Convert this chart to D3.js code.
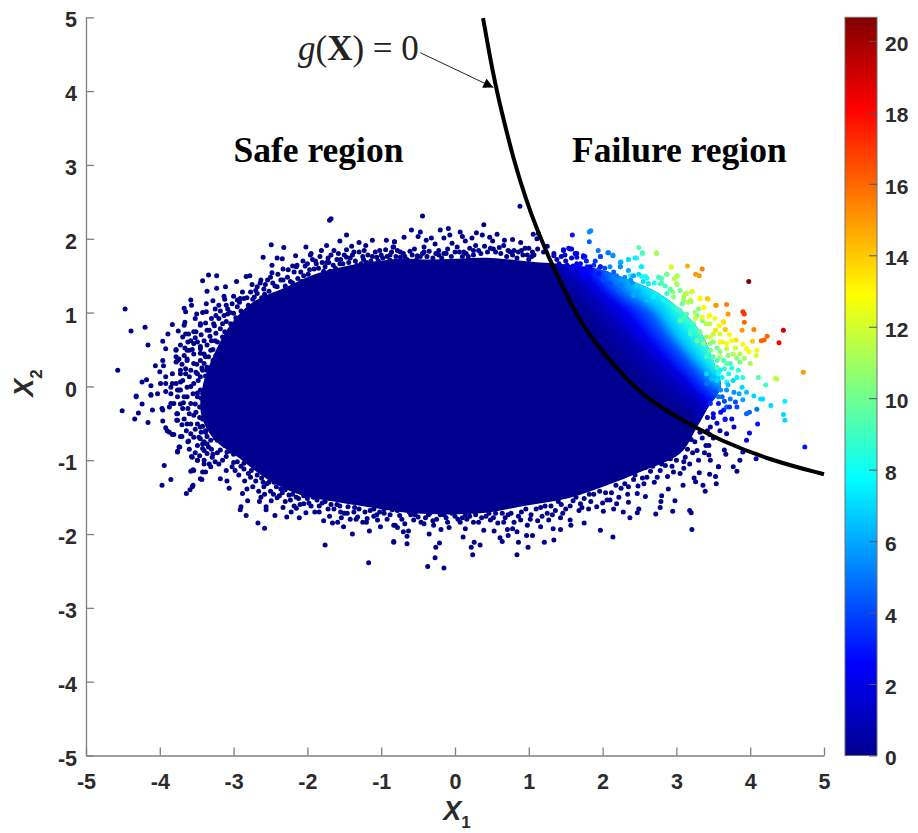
<!DOCTYPE html>
<html>
<head>
<meta charset="utf-8">
<script src="https://cdn.jsdelivr.net/npm/d3@7"></script>
<style>
body { margin: 0; background: #fff; }
svg { display: block; }
text { font-family: "Liberation Sans", Arial, sans-serif; }
.serif { font-family: "Liberation Serif", "Times New Roman", serif; }
</style>
</head>
<body>
<svg id="svg1" width="918" height="833"></svg>
<script>
// all values

let xTicks = [-5, -4, -3, -2, -1, 0, 1, 2, 3, 4, 5];
let yTicks = [-5, -4, -3, -2, -1, 0, 1, 2, 3, 4, 5];
let colorTicks = [0, 2, 4, 6, 8, 10, 12, 14, 16, 18, 20];
let colorMax = 20.66;

// jet colormap stops
let jetStops = [0, 2.58, 7.75, 12.9, 18.1, 20.66];
let jetColors = ["#00008f", "#0000ff", "#00ffff", "#ffff00", "#ff0000", "#800000"];

// g(X) = 0 line
let limitCurve = [[0.38,4.99],[0.445,4.62],[0.528,4.18],[0.605,3.83],[0.795,3.06],[0.967,2.52],[1.10,2.15],[1.33,1.61],
  [1.58,1.10],[1.79,0.72],[2.24,0.18],[2.62,-0.19],[3.15,-0.50],[3.59,-0.73],[4.27,-1.00],[5,-1.19]];

// outline of the part where the dots merge into a solid mass
let solidOutline = [[-3.42,0.0],[-3.24,0.49],[-3.04,0.84],[-2.74,1.14],[-2.30,1.34],[-1.90,1.52],[-1.42,1.64],[-0.74,1.73],
  [-0.42,1.72],[0.03,1.73],[0.48,1.74],[0.93,1.70],[1.16,1.68],[1.41,1.66],[1.97,1.58],[2.42,1.42],[2.78,1.25],
  [3.10,1.00],[3.35,0.70],[3.50,0.35],[3.60,0.00],[3.42,-0.30],[3.28,-0.55],[3.05,-0.91],[2.51,-1.16],[2.06,-1.34],[1.52,-1.52],
  [0.93,-1.62],[0.34,-1.72],[-0.56,-1.72],[-1.01,-1.66],[-1.64,-1.56],[-2.09,-1.47],[-2.54,-1.26],[-2.94,-0.96],
  [-3.26,-0.72],[-3.44,-0.38]];

// lines of equal value inside the solid mass, right of the curve
let isoValues = [0.5, 1, 2, 2.6, 4, 5.5, 7, 8.5, 10];
let isoLines = [
  [[1.38,1.48],[1.56,1.30],[1.83,1.03],[2.15,0.58],[2.56,0.13],[3.10,-0.32],[3.37,-0.55]],
  [[1.40,1.60],[1.61,1.37],[1.97,0.98],[2.29,0.67],[2.69,0.22],[3.19,-0.23],[3.45,-0.50]],
  [[1.50,1.65],[1.79,1.41],[2.12,1.04],[2.44,0.68],[2.84,0.28],[3.30,-0.16],[3.55,-0.40]],
  [[1.70,1.55],[1.96,1.34],[2.28,1.07],[2.57,0.71],[2.96,0.30],[3.36,-0.10],[3.65,-0.35]],
  [[1.92,1.52],[2.14,1.29],[2.43,1.07],[2.70,0.73],[3.04,0.34],[3.40,-0.04],[3.70,-0.30]],
  [[2.10,1.45],[2.32,1.25],[2.64,1.07],[2.91,0.70],[3.20,0.39],[3.49,0.03],[3.80,-0.20]],
  [[2.35,1.40],[2.55,1.20],[2.78,1.02],[2.95,0.75],[3.20,0.43],[3.50,0.12],[3.90,-0.10]],
  [[2.60,1.40],[2.82,1.20],[3.02,0.93],[3.22,0.68],[3.50,0.25],[3.95,0.00]],
  [[2.90,1.40],[3.12,1.08],[3.35,0.75],[3.62,0.35],[3.95,0.10]]
];

// single navy dots around the mass, value about 0
let safePoints = [
  [-1.70,2.25],[-1.68,2.27],[-1.47,2.05],[-1.56,1.97],[-1.12,1.98],[-0.93,1.98],[-0.82,1.96],[-1.30,1.95],[-2.49,1.92],[-2.32,1.88],
  [-2.02,1.89],[-1.74,1.91],[-1.81,1.84],[-0.83,1.89],[-1.21,1.91],[-1.40,1.90],[-1.47,1.85],[-1.64,1.84],[-1.37,1.82],[-1.02,1.84],
  [-1.23,1.84],[-2.16,1.77],[-2.60,1.75],[-2.41,1.74],[-2.34,1.73],[-1.96,1.78],[-2.14,1.64],[-1.89,1.70],[-1.80,1.68],[-1.71,1.68],
  [-1.55,1.72],[-2.48,1.64],[-2.33,1.59],[-2.20,1.63],[-2.00,1.66],[-3.34,1.51],[-3.23,1.50],[-3.42,1.43],[-2.96,1.42],[-2.78,1.50],
  [-2.83,1.49],[-2.48,1.54],[-2.63,1.44],[-2.54,1.44],[-3.11,1.35],[-3.23,1.33],[-3.36,1.29],[-3.58,1.17],[-3.13,1.22],[-2.91,1.19],
  [-3.57,1.10],[-3.67,1.06],[-4.47,1.05],[-3.37,1.12],[-3.20,1.10],[-3.08,1.05],[-3.65,1.01],[-3.50,0.98],[-3.37,1.01],[-3.83,0.84],
  [-4.20,0.80],[-4.39,0.75],[-3.66,0.87],[-3.75,0.75],[-3.89,0.71],[-3.96,0.61],[-4.16,0.56],[-3.78,0.50],[-3.92,0.51],[-3.69,0.67],
  [-3.61,0.71],[-3.51,0.74],[-3.45,0.85],[-4.57,0.22],[-4.06,0.28],[-3.96,0.35],[-3.95,0.28],[-4.00,0.20],[-3.92,0.13],[-4.24,0.06],
  [-4.18,0.09],[-4.12,0.01],[-3.99,0.04],[-4.32,-0.13],[-4.12,-0.11],[-4.03,-0.10],[-3.92,-0.07],[-3.76,0.35],[-3.72,0.22],[-3.78,0.40],
  [-3.63,0.49],[-3.54,0.58],[-3.45,0.54],[-3.33,0.76],[-3.24,0.96],[-3.13,0.96],[-3.04,0.85],[-3.00,0.99],[-3.27,0.85],[-3.45,0.45],
  [-3.63,0.35],[-3.65,0.17],[-3.72,0.06],[-3.83,0.04],[-3.76,-0.05],[-3.58,0.00],[-3.49,0.17],[-3.40,0.31],[-3.31,0.49],[-3.36,0.22],
  [-3.49,-0.09],[-3.63,-0.14],[-3.24,0.72],[-3.15,0.67],[-2.86,0.99],[-2.77,1.28],[-2.68,1.35],[-2.59,1.32],[-2.41,1.35],[-2.27,1.48],
  [-2.09,1.55],[-1.91,1.59],[-1.69,1.56],[-1.47,1.75],[-1.24,1.72],[-1.06,1.75],[-0.88,1.78],[-2.72,1.21],[-2.86,1.19],[-2.95,1.17],[-2.45,1.21],
  [-4.51,-0.33],[-4.32,-0.14],[-4.24,-0.24],[-4.29,-0.36],[-4.34,-0.44],[-4.10,-0.32],[-4.16,-0.49],[-3.96,-0.47],[-3.96,-0.32],[-3.85,-0.23],
  [-3.77,-0.37],[-3.77,-0.46],[-3.92,-0.56],[-3.87,-0.62],[-3.81,-0.65],[-3.70,-0.68],[-3.61,-0.74],[-3.73,-0.82],[-3.76,-0.88],[-3.57,-0.95],
  [-3.49,-1.00],[-3.94,-1.07],[-3.55,-1.13],[-3.58,-1.15],[-3.42,-1.16],[-3.31,-1.09],[-3.85,-1.26],[-3.97,-1.34],[-3.55,-1.34],[-3.59,-1.40],
  [-3.64,-1.45],[-3.43,-1.26],[-3.18,-1.25],[-3.09,-1.28],[-3.06,-1.38],[-2.88,-1.45],[-2.82,-1.39],[-2.81,-1.55],[-2.90,-1.63],[-2.91,-1.67],
  [-2.83,-1.75],[-2.67,-1.85],[-2.58,-1.92],[-2.63,-1.50],[-2.65,-1.56],[-2.49,-1.55],[-2.41,-1.51],[-2.56,-1.63],[-2.56,-1.67],[-2.33,-1.64],
  [-2.44,-1.75],[-2.28,-1.77],[-2.22,-1.70],[-2.11,-1.78],[-2.02,-1.71],[-2.15,-1.65],[-1.78,-1.82],[-1.66,-1.85],[-1.59,-1.84],[-1.51,-1.90],
  [-1.39,-2.00],[-1.16,-1.96],[-1.76,-2.15],[-1.17,-2.39],[-0.83,-2.11],[-1.01,-1.90],[-0.81,-1.88],[-1.84,-1.70],[-1.55,-1.70],[-1.32,-1.77],
  [-1.19,-1.79],[-1.05,-1.81],[-3.45,-0.71],[-3.36,-0.78],[-3.42,-0.84],[-3.29,-0.96],[-3.20,-1.05],[-3.00,-1.03],[-3.02,-1.09],[-2.86,-1.12],
  [-2.77,-1.23],[-2.59,-1.36],[-2.36,-1.39],[-2.23,-1.54],[-2.05,-1.59],[-1.87,-1.54],[-1.64,-1.66],[-1.37,-1.70],[-0.96,-1.72],[-3.63,-0.51],
  [-3.54,-0.39],[-3.72,-0.24],[-3.85,-0.10],[-3.72,-0.05],[-4.12,-0.12],[-3.45,-0.55],[-3.22,-0.73],[-3.09,-0.89],[-3.40,-1.00],[-3.33,-1.05],
  [-0.83,-2.10],[-0.65,-2.13],[-0.65,-2.03],[-0.70,-1.97],[-0.63,-1.96],[-0.83,-1.88],[-0.78,-1.91],[-0.35,-2.00],[-0.21,-2.12],[-0.26,-2.18],
  [-0.27,-2.32],[-0.37,-2.44],[-0.15,-2.46],[-0.19,-1.94],[0.11,-2.04],[0.22,-2.18],[0.26,-2.11],[0.34,-2.15],[0.24,-2.28],[0.39,-1.95],
  [0.53,-1.96],[0.61,-2.05],[0.64,-2.10],[0.71,-1.94],[0.72,-2.02],[0.78,-1.93],[0.84,-1.97],[0.86,-2.11],[0.84,-2.28],[0.99,-2.18],
  [0.97,-2.02],[1.05,-2.02],[1.21,-2.11],[1.34,-2.08],[1.43,-1.94],[1.33,-1.93],[1.57,-1.88],[1.75,-1.85],[1.97,-1.95],[2.14,-2.04],
  [2.37,-1.78],[2.72,-1.73],[2.78,-1.64],[2.95,-1.69],[3.21,-1.94],[3.18,-1.68],[3.20,-1.71],[2.98,-1.55],[2.80,-1.48],[2.79,-1.56],
  [3.39,-1.42],[3.36,-1.34],[3.26,-1.29],[3.24,-1.24],[3.54,-1.32],[3.53,-1.22],[3.45,-1.19],[3.31,-1.17],[3.57,-1.09],[3.46,-1.00],
  [3.44,-0.93],[3.09,-1.34],[2.89,-1.39],[2.58,-1.49],[2.49,-1.66],[2.47,-1.71],[2.28,-1.70],[2.15,-1.66],[2.01,-1.69],
  [-0.56,-1.81],[-0.42,-1.86],[-0.29,-1.88],[-0.08,-1.91],[0.07,-1.84],[0.14,-1.93],[0.32,-1.84],[0.48,-1.81],[0.66,-1.84],[0.98,-1.88],
  [1.16,-1.90],[1.27,-1.81],[1.43,-1.78],[1.56,-1.81],[1.68,-1.68],[1.81,-1.66],[1.92,-1.63],[2.06,-1.54],[2.19,-1.59],[2.35,-1.57],
  [2.47,-1.45],[2.35,-1.36],[2.56,-1.32],[2.74,-1.23],[2.96,-1.16],[3.10,-1.11],[3.12,-0.96],[3.28,-0.87],[3.44,-0.80],[2.85,-1.07],
  [2.60,-1.23],[2.10,-1.54],[1.70,-1.59],[1.25,-1.72],[0.89,-1.81],
  [-0.44,2.31],[0.39,2.19],[0.88,2.44],[-0.82,1.96],[-0.84,1.89],[-0.69,2.02],[-0.59,2.12],[-0.47,2.09],[-0.50,2.03],[-0.39,1.98],
  [-0.32,2.01],[-0.20,2.12],[-0.09,2.14],[-0.15,2.01],[-0.07,2.05],[-0.27,1.93],[0.07,2.09],[0.10,2.03],[-0.04,1.94],[0.14,1.97],
  [0.23,2.01],[0.29,2.08],[0.37,2.05],[0.47,2.02],[0.57,2.06],[0.51,1.97],[0.67,1.98],[0.78,1.99],[0.89,1.95],[1.06,2.06],[1.11,2.00],
  [1.13,2.07],[1.00,1.87],[-0.61,1.83],[-0.42,1.89],[-0.42,1.82],[-0.22,1.84],[0.03,1.89],[0.12,1.82],[0.28,1.91],[0.48,1.87],[0.66,1.91],
  [0.75,1.82],[0.86,1.82],[0.95,1.87],[1.07,1.78],[-0.51,1.77],[-0.15,1.80],[-0.74,1.75],[0.25,1.84],
  [3.67,-0.92],[3.65,-0.86],[3.57,-1.09],[3.77,-1.09],[3.82,-1.15],[3.86,-1.00]
];

// the thick rim of navy dots just outside the solid part
let rimPoints = [
  [-3.78,0.49],[-3.72,0.56],[-3.60,0.49],[-3.67,0.42],[-3.74,0.37],[-3.78,0.33],[-3.63,0.37],[-3.54,0.44],[-3.45,0.51],[-3.58,0.62],
  [-3.49,0.60],[-3.65,0.71],[-3.54,0.74],[-3.45,0.83],[-3.36,0.76],[-3.40,0.62],[-3.67,0.83],[-3.45,0.35],[-3.54,0.31],[-3.65,0.24],
  [-3.72,0.17],[-3.78,0.04],[-3.69,0.08],[-3.60,0.13],[-3.51,0.19],[-3.45,0.13],[-3.36,0.26],[-3.83,0.17],[-3.92,0.04],[-3.85,-0.01],
  [-3.74,-0.05],[-3.63,-0.01],[-3.54,0.04],[-3.45,-0.05],[-3.36,-0.01],[-3.76,-0.14],[-3.67,-0.14],[-3.58,-0.23],[-3.49,-0.14],[-3.40,-0.23],
  [-3.87,-0.28],[-3.97,-0.30],[-3.81,-0.23],[-3.69,-0.30],[-3.60,-0.37],[-3.51,-0.35],[-3.42,-0.44],[-3.76,-0.37],[-3.67,-0.44],[-3.76,-0.46],
  [-3.58,-0.51],[-3.49,-0.51],[-3.36,-0.41],[-3.38,-0.60],[-3.47,-0.69],[-3.40,-0.75],[-3.54,-0.69],[-3.31,-0.73],[-3.49,-0.80],[-3.40,-0.87],
  [-3.56,-0.96],[-3.49,-1.00],[-3.36,-0.91],[-3.40,-1.05],[-3.54,-1.14],[-3.45,-1.25],[-3.38,-1.16],[-3.56,-1.36],[-3.90,-0.60],[-3.83,-0.65],
  [-3.72,-0.68],[-3.62,-0.75],[-3.74,-0.82],[-3.76,-0.89],[-3.33,0.10],[-3.38,0.40],[-3.30,0.62],[-3.28,0.35],[-3.35,-0.12],[-3.32,-0.30],
  [-3.42,0.22],[-3.30,-0.50],[-3.52,0.92],[-3.42,1.00],[-3.30,0.92],[-3.25,1.05],[-3.15,0.85],[-3.10,1.10],[-3.02,1.12],[-2.95,1.08],
  [-3.25,0.62],[-3.18,0.78],[-3.10,0.88],[-3.02,0.74],[-2.97,0.93],[-2.90,1.02],[-2.84,0.90],[-2.80,1.10],[-2.74,1.18],[-2.68,1.26],
  [-2.62,1.20],[-2.57,1.38],[-2.52,1.29],[-2.47,1.40],[-2.38,1.26],[-2.36,1.44],[-2.30,1.36],[-2.23,1.42],[-2.18,1.55],[-2.13,1.46],
  [-2.05,1.50],[-2.03,1.63],[-1.97,1.58],[-1.93,1.72],[-1.85,1.60],[-1.83,1.76],[-1.76,1.62],[-1.72,1.74],[-1.65,1.64],[-1.60,1.72],
  [-1.58,1.80],[-1.52,1.66],[-1.42,1.74],[-1.35,1.70],[-1.30,1.82],[-1.27,1.66],[-1.18,1.78],[-1.14,1.70],[-1.08,1.82],[-0.98,1.74],
  [-0.94,1.85],[-0.88,1.71],[-0.78,1.84],[-0.70,1.80],[-0.65,1.72],[-0.55,1.86],[-0.47,1.76],[-0.35,1.83],[-0.30,1.74],[-0.22,1.78],
  [-0.10,1.86],[-0.05,1.76],[0.06,1.82],[0.18,1.76],[0.20,1.87],[0.35,1.80],[0.40,1.90],[0.55,1.82],[0.60,1.88],[0.70,1.76],
  [0.80,1.84],[0.84,1.74],[0.92,1.78],[1.00,1.72],[1.05,1.82],[1.12,1.86],[1.20,1.82],[1.25,1.90],
  [-3.35,-0.45],[-3.28,-0.55],[-3.38,-0.62],[-3.25,-0.70],[-3.18,-0.62],[-3.30,-0.85],[-3.12,-0.80],[-3.22,-0.90],[-3.05,-0.72],[-3.15,-1.00],
  [-3.00,-0.92],[-2.95,-1.02],[-2.90,-1.08],[-2.82,-1.00],[-2.80,-1.18],[-2.72,-1.10],[-2.70,-1.28],[-2.62,-1.24],[-2.55,-1.32],[-2.50,-1.42],
  [-2.45,-1.30],[-2.38,-1.48],[-2.30,-1.40],[-2.25,-1.47],[-2.15,-1.50],[-2.10,-1.60],[-2.00,-1.52],[-1.95,-1.62],[-1.90,-1.70],[-1.80,-1.58],
  [-1.72,-1.66],[-1.70,-1.76],[-1.60,-1.60],[-1.50,-1.72],[-1.45,-1.63],[-1.42,-1.80],[-1.30,-1.66],[-1.25,-1.84],[-1.15,-1.68],[-1.10,-1.76],
  [-1.02,-1.70],[-0.92,-1.80],[-0.85,-1.67],[-0.75,-1.75],[-0.68,-1.86],[-0.60,-1.74],[-0.50,-1.77],[-0.40,-1.78],[-0.34,-1.72],[-0.25,-1.80],
  [-0.15,-1.74],[-0.10,-1.84],[0.00,-1.76],[0.10,-1.78],[0.20,-1.76],[0.25,-1.84],[0.42,-1.76],[0.55,-1.72],[0.58,-1.85],[0.72,-1.74],
  [0.80,-1.84],[0.90,-1.70],[1.03,-1.74],[1.10,-1.66],[1.12,-1.82],[1.22,-1.62],[1.36,-1.68],[1.40,-1.56],[1.50,-1.66],[1.60,-1.55],
  [1.75,-1.52],[1.88,-1.46],[2.00,-1.58],[2.12,-1.44],[2.25,-1.38],[2.22,-1.50],[2.42,-1.26],[2.48,-1.35],[2.65,-1.15],[2.70,-1.30],
  [2.80,-1.05],[2.88,-1.22],[3.00,-1.00],[3.05,-1.18],[3.15,-0.85],[3.18,-1.05],[3.25,-0.75],[3.30,-1.00],[3.35,-0.70],[3.38,-0.90],[3.45,-0.65],
  [-3.28,1.16],[-3.18,1.02],[-3.12,1.18],[-3.05,1.00],[-3.00,1.22],[-2.92,1.14],[-2.88,1.28],[-2.82,1.20],[-2.75,1.38],[-2.70,1.30],
  [-2.64,1.40],[-2.58,1.25],[-2.50,1.48],[-2.44,1.36],[-2.40,1.52],[-2.33,1.44],[-2.26,1.58],[-2.20,1.40],[-2.15,1.62],[-2.08,1.42],
  [-2.06,1.70],[-1.99,1.52],[-1.95,1.80],[-1.88,1.66],[-1.78,1.56],[-1.74,1.68],[-1.68,1.78],[-1.62,1.60],[-1.56,1.66],[-1.50,1.78],
  [-1.44,1.68],[-1.39,1.78],[-1.33,1.64],[-1.25,1.76],[-1.20,1.68],[-1.12,1.76],[-1.04,1.70],[-1.00,1.78],[-0.92,1.76],[-0.86,1.82],
  [-0.80,1.76],[-0.74,1.82],[-0.68,1.76],[-0.58,1.78],[-0.52,1.72],[-0.44,1.80],[-0.38,1.76],[-0.26,1.80],[-0.18,1.74],[-0.12,1.80],
  [0.00,1.82],[0.10,1.76],[0.15,1.80],[0.25,1.78],[0.32,1.84],[0.44,1.82],[0.52,1.86],[0.62,1.80],[0.72,1.84],[0.78,1.78],[0.90,1.84],[0.98,1.78],[1.04,1.76],
  [-3.70,0.30],[-3.66,0.52],[-3.62,0.60],[-3.58,0.22],[-3.56,0.50],[-3.52,0.66],[-3.50,0.30],[-3.48,0.08],[-3.44,0.70],[-3.43,0.25],
  [-3.42,-0.10],[-3.40,0.44],[-3.38,0.86],[-3.38,0.14],[-3.36,0.56],[-3.34,0.40],[-3.32,0.68],[-3.30,0.20],[-3.28,0.50],[-3.26,0.82],
  [-3.24,0.42],[-3.22,0.60],[-3.20,0.92],[-3.12,0.74],[-3.08,0.98],[-3.06,0.64],[-3.55,-0.10],[-3.52,-0.24],[-3.46,-0.28],[-3.44,-0.16],
  [-3.68,-0.22],[-3.62,-0.30],[-3.70,-0.52],[-3.64,-0.60],[-3.58,-0.64],[-3.52,-0.58],[-3.46,-0.42],[-3.44,-0.62],[-3.42,-0.54],[-3.36,-0.68],
  [-3.60,-0.85],[-3.52,-0.90],[-3.46,-0.94],[-3.42,-0.78],[-3.34,-0.82],[-3.28,-0.92],[-3.25,-1.02],[-3.18,-0.86],[-3.10,-0.95],[-3.10,-1.14],
  [-3.04,-0.88],[-2.98,-1.14],[-2.93,-1.20],[-2.86,-1.04],[-2.85,-1.28],[-2.76,-1.14],[-2.74,-1.36],[-2.68,-1.20],[-2.66,-1.42],[-2.60,-1.30],
  [-2.58,-1.46],[-2.52,-1.30],[-2.46,-1.46],[-2.42,-1.36],[-2.34,-1.44],[-2.30,-1.56],[-2.20,-1.46],[-2.18,-1.62],[-2.12,-1.52],[-2.05,-1.48],
  [-1.98,-1.58],[-1.92,-1.50],[-1.84,-1.62],[-1.76,-1.56],[-1.68,-1.60],[-1.56,-1.62],[-1.54,-1.78],[-1.46,-1.72],[-1.36,-1.64],[-1.34,-1.80],
  [-1.22,-1.70],[-1.20,-1.84],[-1.10,-1.66],[-1.06,-1.74],[-0.96,-1.66],[-0.88,-1.74],[-0.78,-1.68],[-0.72,-1.80],[-0.62,-1.70],[-0.54,-1.74],
  [-0.46,-1.84],[-0.36,-1.74],[-0.30,-1.82],[-0.20,-1.74],[-0.12,-1.78],[-0.04,-1.72],[0.04,-1.80],[0.14,-1.74],[0.16,-1.80],[0.28,-1.74],
  [0.36,-1.78],[0.46,-1.72],[0.52,-1.78],[0.64,-1.72],[0.68,-1.78],[0.76,-1.72],[0.86,-1.76],[0.96,-1.66],[1.02,-1.80],[1.16,-1.64],
  [1.18,-1.76],[1.30,-1.62],[1.32,-1.74],[1.44,-1.60],[1.46,-1.72],[1.56,-1.62],[1.64,-1.50],[1.72,-1.64],[1.82,-1.46],[1.84,-1.56],
  [1.96,-1.42],[2.04,-1.44],[2.18,-1.34],[2.30,-1.32],[2.34,-1.46],[2.44,-1.20],[2.54,-1.24],[2.58,-1.10],[2.68,-1.08],[2.74,-1.00],
  [2.78,-1.14],[2.92,-0.98],[2.94,-1.08],[3.08,-0.82],[3.10,-1.02],[3.20,-0.72],[3.22,-0.90],[3.32,-0.62],[3.40,-0.80],[3.42,-0.60],[3.50,-0.70]
];

// dots in the failure region with their colour value [x1, x2, value]
let failPoints = [
  [1.59,2.05,3],[1.84,2.11,5.5],[1.82,2.09,5.5],[1.82,1.96,4.5],[1.94,1.84,5],[2.07,1.81,5.5],[2.14,1.78,6],[1.97,1.76,4.5],[2.49,1.88,9.5],
  [2.54,1.80,9.5],[2.73,1.80,11],[2.46,1.74,8.5],[2.35,1.72,7.5],[2.25,1.69,7],[2.24,1.62,6.5],[2.10,1.62,5.5],[1.97,1.62,4.5],[2.93,1.62,12],
  [3.15,1.63,14.5],[3.35,1.59,15.5],[3.26,1.52,15],[3.31,1.50,15],[3.98,1.42,20.5],[2.52,1.62,8.5],[2.38,1.50,7.5],[2.53,1.49,8],[2.60,1.47,8],
  [2.76,1.48,9.5],[2.80,1.46,9.5],[2.87,1.52,10],[3.01,1.49,12],[2.97,1.46,11.5],[2.80,1.40,9],[3.01,1.38,11],[2.92,1.32,10.5],[2.95,1.28,10.5],
  [2.96,1.21,10.5],[3.14,1.26,11.5],[3.21,1.29,12],[3.10,1.21,11],[3.19,1.17,11.5],[3.32,1.19,13],[3.43,1.18,13.5],[3.37,1.07,13],[3.53,1.10,14],
  [3.68,1.11,15.5],[3.70,0.98,15],[3.90,1.01,17],[3.92,0.98,17],[3.92,0.87,16],[3.64,0.87,13.5],[3.44,0.95,13],[3.89,0.76,15],[4.05,0.77,15.5],
  [3.67,0.77,12.5],[4.23,0.68,16],[4.19,0.63,16],[4.15,0.62,16],[4.45,0.76,19],[4.39,0.59,18],[4.03,0.61,14],[3.81,0.63,13.5],[3.90,0.57,13],
  [3.95,0.51,13],[3.98,0.47,13],[4.09,0.49,12.5],[4.08,0.42,12],[4.72,0.19,15],[4.34,0.11,11.5],[4.36,0.10,11.5],[4.11,0.12,9.5],[4.21,0.02,9],
  [4.47,-0.20,7.5],[4.45,-0.38,7],[4.47,-0.46,7],[4.74,-0.82,3],[4.28,-0.26,7],[4.14,-0.17,7],[4.17,-0.17,7],[4.05,-0.13,7],[4.09,-0.31,5],
  [3.90,-0.18,6],[3.95,-0.37,4.5],[3.99,-0.35,4.5],[4.10,-0.51,3],[3.99,-0.63,2.5],[3.95,-0.73,2],[4.08,-0.98,1],[3.90,-0.89,0.5],
  [3.14,0.98,9.5],[3.28,0.96,10],[3.35,0.89,10.5],[3.23,0.85,9],[3.05,1.03,9],[2.96,1.08,8.5],[3.10,0.92,9],[3.19,0.76,8.5],[3.32,0.74,10],
  [3.28,0.62,9],[3.41,0.67,11],[3.50,0.71,11.5],[3.59,0.71,12],[3.46,0.58,10.5],[3.62,0.60,12],[3.68,0.51,11.5],[3.77,0.44,11.5],[3.59,0.47,10.5],
  [3.86,0.44,11.5],[4.00,0.31,11],[3.86,0.33,10],[3.73,0.31,9],[3.64,0.35,9],[3.84,0.22,8.5],[3.71,0.17,8],[3.59,0.22,7.5],[3.77,0.08,7],
  [3.89,-0.01,7],[3.95,-0.08,6.5],[3.68,-0.05,5.5],[3.62,-0.14,4.5],[3.73,-0.17,5],[3.82,-0.28,4],[3.80,-0.21,4],[3.64,-0.32,3],[3.57,-0.23,3],
  [3.50,-0.42,2],[3.75,-0.44,2],[3.66,-0.45,1.5],[3.78,-0.55,1],[3.68,-0.64,0.8],[3.59,-0.60,0.7],[3.46,-0.55,0.5],
  [2.62,1.39,7.5],[2.69,1.21,7.5],[2.83,1.17,8],[2.49,1.30,6.5],[2.19,1.50,5],[2.06,1.53,4.5],[1.95,1.59,4],[1.88,1.64,3.5],[1.74,1.75,3],
  [1.65,1.80,2.5],[1.56,1.86,2],[1.47,1.84,1.5],[1.34,1.77,0.8],[1.41,1.66,1],[1.52,1.64,1.5],[1.65,1.66,2],[1.79,1.62,3],[1.74,1.50,2.5],
  [2.01,1.44,4],[2.24,1.37,5],[2.42,1.23,6],
  [1.34,1.80,0.8],[1.47,1.85,1.5],[1.54,1.87,2],[1.58,1.86,2.2],[1.63,1.80,2.5],[1.65,1.75,2.5],[1.76,1.76,3],[1.60,1.63,2],[1.38,1.72,1],
  [1.49,1.78,1.5],[1.72,1.57,2.5],
  [1.63,1.80,2],[1.74,1.77,2.5],[1.97,1.76,4],[2.08,1.81,5],[2.14,1.77,5.5],[2.24,1.68,6],[2.24,1.62,5.5],[2.35,1.72,7],[2.44,1.74,7.5],[2.54,1.81,9],
  [2.73,1.81,11],[2.53,1.62,7.5],[2.35,1.57,6],[2.42,1.50,6],[2.49,1.52,7],[2.58,1.49,8],[2.62,1.39,7.5],[2.76,1.48,9],[2.87,1.52,10],[3.01,1.50,11],
  [3.00,1.39,11],[2.93,1.61,12],[2.78,1.39,9],[2.92,1.31,9.5],[3.12,1.26,11.5],[3.21,1.28,12],[3.10,1.17,11],[3.16,1.14,11.5],[3.32,1.19,13],[3.42,1.19,14],
  [3.37,1.07,13],[3.26,0.92,12],[3.35,0.94,12.5],[3.45,0.96,13],[3.54,1.10,15],[3.53,0.76,13.5],[3.66,0.77,14],[3.64,0.88,13.5],[3.46,0.67,12],[3.59,0.60,13],
  [3.68,0.58,13],[3.37,0.58,10.5],[3.46,0.49,10],[3.59,0.40,11],[3.68,0.31,10],[3.55,0.26,9.5],[3.41,0.40,9],[3.28,0.62,10],[3.19,0.71,9],[3.05,0.89,9.5],
  [3.01,1.05,9],[2.87,1.26,8.5],[2.71,1.26,7.5],[2.60,1.17,6.5],[2.47,1.28,6],[2.38,1.44,5.5],[2.22,1.30,4.5],[2.10,1.39,4],[1.97,1.62,3],[1.95,1.53,3],
  [1.83,1.62,2],[3.55,0.08,7],[3.68,0.06,8],[3.41,0.17,7],[3.57,-0.14,5],[3.46,-0.23,3.5],[3.50,-0.37,2.5],[3.68,-0.28,4.5],[3.28,-0.37,1],[3.35,-0.14,2.5],
  [3.41,0.04,5],[3.66,-0.44,3],[3.57,0.17,8],
  [3.30,1.05,10.5],[3.45,0.85,11.5],[3.52,0.92,12.5],[3.58,0.82,12.5],[3.72,0.70,13],[3.75,0.62,12.5],[3.80,0.52,12],[3.70,0.42,10.5],[3.82,0.38,10.5],[3.92,0.38,11],
  [3.50,0.40,9.5],[3.55,0.52,10],[3.65,0.24,8.5],[3.75,0.25,8.5],[3.62,0.12,7.5],[3.70,0.02,6.5],[3.82,0.12,7.5],[3.90,0.12,8.5],[3.60,-0.05,5.5],[3.65,-0.20,4],
  [3.78,-0.08,5.5],[3.85,-0.10,6],[3.72,-0.28,3.5],[3.60,-0.35,2.5],[3.55,-0.50,1.5],[3.42,-0.42,1],[3.40,0.85,11.5],[3.20,1.15,11],[3.05,1.30,10],[2.85,1.36,9],
  [2.70,1.40,8],[2.55,1.42,7],[2.40,1.40,5.5],[2.30,1.48,5.5],[2.15,1.55,4.5],[2.03,1.60,4],[1.90,1.70,3.5],[1.78,1.70,3],[1.70,1.66,2.5],[1.58,1.74,1.5],
  [1.50,1.70,1.2],[1.44,1.76,1.2],[3.08,1.12,10],[3.25,1.00,11],[3.50,0.60,10.5],[3.55,0.35,9],[3.48,0.10,6.5],[3.50,-0.08,4]
];

let svg1 = d3.select("#svg1");

let xScale = d3.scaleLinear([-5, 5], [86, 824]);
let yScale = d3.scaleLinear([-5, 5], [755.5, 17.3]);
let colorScale = d3.scaleLinear(jetStops, jetColors);
let colorAxisScale = d3.scaleLinear([0, colorMax], [755.5, 17.3]);

let pathLine = d3.line().x(d => xScale(d[0])).y(d => yScale(d[1]));
let outlinePath = pathLine.curve(d3.curveCatmullRomClosed)(solidOutline);

let defs = svg1.append("defs");

defs.append("clipPath").attr("id", "solidClip")
  .append("path").attr("d", outlinePath);

defs.append("filter").attr("id", "soft")
  .attr("x", "-20%").attr("y", "-20%").attr("width", "140%").attr("height", "140%")
  .append("feGaussianBlur").attr("stdDeviation", 5);

defs.append("filter").attr("id", "jpeg")
  .append("feGaussianBlur").attr("stdDeviation", 0.4);

// colorbar gradient
let grad = defs.append("linearGradient").attr("id", "jetGrad")
  .attr("x1", 0).attr("y1", 1).attr("x2", 0).attr("y2", 0);
jetStops.forEach((s, i) => {
  grad.append("stop").attr("offset", s / colorMax).attr("stop-color", jetColors[i]);
});

// dots
let dots = svg1.append("g").attr("filter", "url(#jpeg)");

dots.selectAll(".safe")
  .data(safePoints.concat(rimPoints))
  .join("circle")
  .attr("class", "safe")
  .attr("cx", d => xScale(d[0]))
  .attr("cy", d => yScale(d[1]))
  .attr("r", 2.5)
  .attr("fill", colorScale(0));

dots.append("path")
  .attr("d", outlinePath)
  .attr("fill", colorScale(0));

// gradient part, each band runs out to the far corner and gets cut by the clip
let bands = dots.append("g").attr("clip-path", "url(#solidClip)")
  .append("g").attr("filter", "url(#soft)");

isoLines.forEach((line, i) => {
  let first = line[0];
  let last = line[line.length - 1];
  let closed = line.concat([[5, last[1]], [5, 3], [first[0], 3]]);
  bands.append("path")
    .attr("d", pathLine.curve(d3.curveLinearClosed)(closed))
    .attr("fill", colorScale(isoValues[i]));
});

dots.selectAll(".fail")
  .data(failPoints)
  .join("circle")
  .attr("class", "fail")
  .attr("cx", d => xScale(d[0]))
  .attr("cy", d => yScale(d[1]))
  .attr("r", 2.5)
  .attr("fill", d => colorScale(d[2]));

// limit state curve
dots.append("path")
  .attr("d", pathLine.curve(d3.curveBasis)(limitCurve))
  .attr("fill", "none")
  .attr("stroke", "#000")
  .attr("stroke-width", 4);

// axes
let xAxis = svg1.append("g")
  .attr("transform", "translate(0,755.5)")
  .call(d3.axisBottom(xScale).tickValues(xTicks).tickSizeInner(-8).tickSizeOuter(0).tickPadding(18).tickFormat(d => String(d)));
let yAxis = svg1.append("g")
  .attr("transform", "translate(86,0)")
  .call(d3.axisLeft(yScale).tickValues(yTicks).tickSizeInner(-8).tickSizeOuter(0).tickPadding(9).tickFormat(d => String(d)));

[xAxis, yAxis].forEach(a => {
  a.selectAll("path, line").attr("stroke", "#7f7f7f").attr("stroke-width", 1.3);
  a.selectAll("text")
    .attr("fill", "#2b2b2b")
    .style("font-family", '"Liberation Sans", Arial, sans-serif')
    .style("font-size", "21.5px")
    .style("font-weight", "bold");
});
yAxis.selectAll("text").attr("dy", "0.45em");

// colorbar
svg1.append("rect")
  .attr("x", 845).attr("y", 17.3).attr("width", 32).attr("height", 738.2)
  .attr("fill", "url(#jetGrad)")
  .attr("stroke", "#6e6e6e").attr("stroke-width", 1);

let cAxis = svg1.append("g")
  .attr("transform", "translate(877,0)")
  .call(d3.axisRight(colorAxisScale).tickValues(colorTicks).tickSizeInner(-8).tickSizeOuter(0).tickPadding(8).tickFormat(d => String(d)));
cAxis.select(".domain").remove();
cAxis.selectAll("line").attr("stroke", "#555").attr("stroke-width", 1);
cAxis.selectAll("text")
  .attr("fill", "#2b2b2b")
  .style("font-family", '"Liberation Sans", Arial, sans-serif')
  .style("font-size", "21px")
  .style("font-weight", "bold")
  .attr("dy", "0.45em");

// axis titles
let xLabel = svg1.append("text")
  .attr("x", 457).attr("y", 820)
  .attr("text-anchor", "middle")
  .attr("fill", "#2b2b2b")
  .attr("font-size", 27).attr("font-weight", "bold").attr("font-style", "italic")
  .text("X");
xLabel.append("tspan").attr("dy", 8).attr("font-size", 17).attr("font-style", "normal").text("1");

let yLabel = svg1.append("text")
  .attr("transform", "translate(33,383) rotate(-90)")
  .attr("text-anchor", "middle")
  .attr("fill", "#2b2b2b")
  .attr("font-size", 27).attr("font-weight", "bold").attr("font-style", "italic")
  .text("X");
yLabel.append("tspan").attr("dy", 9).attr("font-size", 17).attr("font-style", "normal").text("2");

// region labels
svg1.append("text").attr("class", "serif")
  .attr("x", xScale(-1.85)).attr("y", 162)
  .attr("text-anchor", "middle")
  .attr("font-size", 35.5).attr("font-weight", "bold")
  .text("Safe region");
svg1.append("text").attr("class", "serif")
  .attr("x", xScale(3.04)).attr("y", 162)
  .attr("text-anchor", "middle")
  .attr("font-size", 35.5).attr("font-weight", "bold")
  .text("Failure region");

// g(X) = 0 with arrow
let gLabel = svg1.append("text").attr("class", "serif")
  .attr("x", 298).attr("y", 60)
  .attr("font-size", 35).attr("fill", "#222");
gLabel.append("tspan").attr("font-style", "italic").text("g");
gLabel.append("tspan").text("(");
gLabel.append("tspan").attr("font-weight", "bold").text("X");
gLabel.append("tspan").text(") = 0");

defs.append("marker").attr("id", "arrowHead")
  .attr("viewBox", "0 0 10 10").attr("refX", 10).attr("refY", 5)
  .attr("markerWidth", 11).attr("markerHeight", 10).attr("markerUnits", "userSpaceOnUse")
  .attr("orient", "auto")
  .append("path").attr("d", "M0,0L10,5L0,10Z").attr("fill", "#000");

let arrowFrom = [-0.47, 4.52];
let arrowTo = [0.52, 4.05];
svg1.append("line")
  .attr("x1", xScale(arrowFrom[0])).attr("y1", yScale(arrowFrom[1]))
  .attr("x2", xScale(arrowTo[0])).attr("y2", yScale(arrowTo[1]))
  .attr("stroke", "#222").attr("stroke-width", 1)
  .attr("marker-end", "url(#arrowHead)");
</script>
</body>
</html>
